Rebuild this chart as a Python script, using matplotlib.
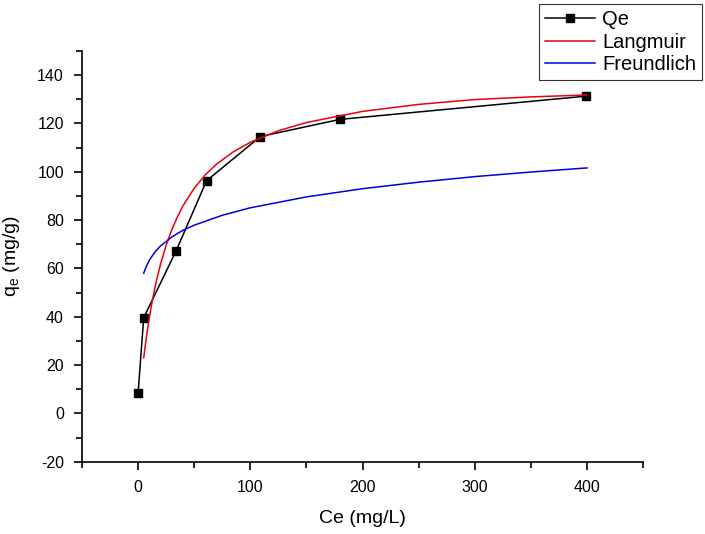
import matplotlib
matplotlib.use("Agg")
import matplotlib.pyplot as plt
from matplotlib.ticker import MultipleLocator

plt.rcParams['font.family'] = ['Liberation Sans', 'DejaVu Sans']
plt.rcParams['axes.unicode_minus'] = False

# Experimental data
ce_exp = [0, 5, 34, 61, 109, 180, 399]
qe_exp = [8.4, 39.6, 67.4, 96.3, 114.6, 121.7, 131.3]

# Langmuir fitted curve
ce_lang = [5, 6, 8, 10, 12, 14, 16, 20, 25, 30, 35, 40, 50, 60, 70, 85, 100, 125, 150,
           200, 250, 300, 350, 400]
q_lang = [23.0, 26.6, 33.5, 39.5, 44.9, 49.8, 54.2, 61.8, 69.6, 76.0, 81.3, 85.9, 93.2,
          98.8, 103.2, 108.3, 112.2, 117.0, 120.4, 125.0, 127.9, 129.9, 131.0, 131.8]

# Freundlich fitted curve
ce_freu = [5, 7, 10, 15, 20, 30, 40, 50, 75, 100, 150, 200, 250, 300, 350, 400]
q_freu = [58.0, 60.5, 63.4, 66.8, 69.3, 73.0, 75.8, 77.9, 82.0, 85.1, 89.6, 93.0, 95.7,
          98.0, 99.9, 101.6]

x_label = "Ce (mg/L)"
y_label = "q$_\\mathregular{e}$ (mg/g)"
legend_labels = ["Qe", "Langmuir", "Freundlich"]

fig = plt.figure(figsize=(7.05, 5.34), dpi=100)
ax = fig.add_axes([82/705, 72.3/534, (643-82)/705, (461.7-51)/534])

ax.plot(ce_exp, qe_exp, color='black', lw=1.1, marker='s', markersize=6.2,
        label=legend_labels[0])
ax.plot(ce_lang, q_lang, color='#e8000b', lw=1.1, label=legend_labels[1])
ax.plot(ce_freu, q_freu, color='#0000dd', lw=1.1, label=legend_labels[2])

ax.set_xlim(-50, 450)
ax.set_ylim(-20, 150)
ax.xaxis.set_major_locator(MultipleLocator(100))
ax.xaxis.set_minor_locator(MultipleLocator(50))
ax.yaxis.set_major_locator(MultipleLocator(20))
ax.yaxis.set_minor_locator(MultipleLocator(10))
ax.set_xticks([0, 100, 200, 300, 400])
ax.spines['top'].set_visible(False)
ax.spines['right'].set_visible(False)
for s in ('left', 'bottom'):
    ax.spines[s].set_linewidth(1.2)
ax.tick_params(which='major', direction='out', length=6, width=1.2, labelsize=11.5, pad=7)
ax.tick_params(which='minor', direction='out', length=4, width=1.2)

ax.set_xlabel(x_label, fontsize=14, labelpad=11)
ax.set_ylabel(y_label, fontsize=14, labelpad=11)

leg = fig.legend(loc='upper right', bbox_to_anchor=(702/705, 1 - 4/534),
                 fontsize=14.5, frameon=True, fancybox=False, edgecolor='black',
                 handlelength=2.5, borderpad=0.3, labelspacing=0.18, handletextpad=0.33,
                 borderaxespad=0)
leg.get_frame().set_linewidth(0.8)

fig.savefig("out.png", dpi=100)
